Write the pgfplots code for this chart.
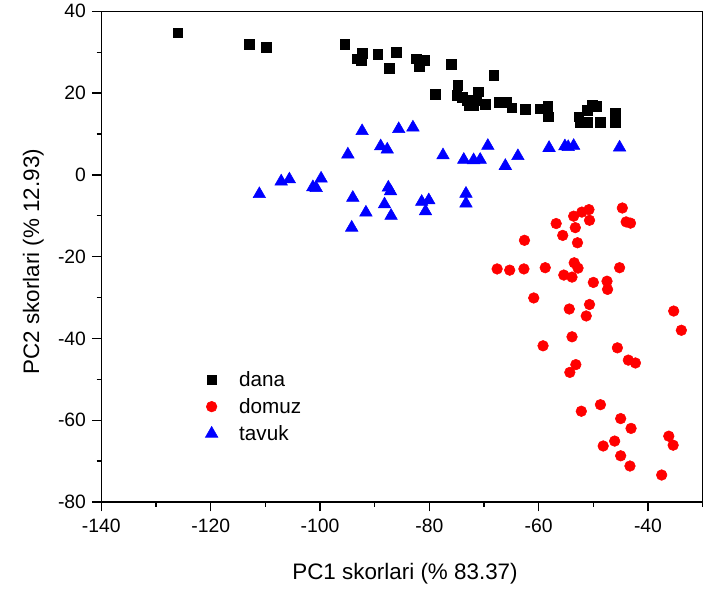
\documentclass[border=0pt]{standalone}
\usepackage{pgfplots}
\pgfplotsset{compat=1.18}
\usepackage{fontspec}
\setmainfont{Liberation Sans}
\begin{document}
\begin{tikzpicture}
\begin{axis}[
  at={(0,0)}, anchor=south west,
  scale only axis, width=451pt, height=368pt,
  xmin=-140, xmax=-30, ymin=-80, ymax=40,
  xtick={-140,-120,-100,-80,-60,-40},
  ytick={-80,-60,-40,-20,0,20,40},
  minor xtick={-130,-110,-90,-70,-50,-30},
  minor ytick={-70,-50,-30,-10,10,30},
  tick pos=left, tick align=outside,
  major tick length=7pt, minor tick length=3.5pt,
  every tick/.style={black, line width=1pt},
  axis line style={line width=1.1pt},
  /pgf/number format/assume math mode=true,
  ticklabel style={font=\fontsize{14.5}{16}\selectfont},
  xticklabel style={yshift=-2pt},
  yticklabel style={xshift=-1pt},
  xlabel={PC1 skorlari (\% 83.37)},
  ylabel={PC2 skorlari (\% 12.93)},
  label style={font=\fontsize{16.8}{19}\selectfont},
  xlabel style={at={(axis description cs:0.505,0)}, anchor=center, yshift=-54pt},
  ylabel style={at={(axis description cs:0,0.49)}, anchor=center, yshift=51pt},
  legend style={at={(0.166,0.278)}, anchor=north west, draw=none, fill=none,
    font=\fontsize{15.5}{17}\selectfont, row sep=3.5pt,
    /tikz/every odd column/.append style={column sep=14pt}},
  legend cell align=left,
]
\addplot[only marks, mark=square*, mark size=3.6pt, black] coordinates {
(-126.0,34.8) (-112.9,31.9) (-109.8,31.2) (-95.5,31.9) (-93.3,28.4) (-92.5,27.9)
(-92.3,29.8) (-89.4,29.5) (-87.3,26.1) (-86.1,30.0) (-82.4,28.4) (-81.8,26.6)
(-80.8,28.0) (-76.0,27.0) (-78.9,19.7) (-68.2,24.4) (-74.8,21.9) (-75.0,19.5)
(-74.0,19.0) (-73.1,18.2) (-72.8,17.0) (-71.9,17.0) (-71.1,20.3) (-71.3,18.2)
(-69.8,17.3) (-67.3,17.8) (-65.8,17.8) (-64.9,16.4) (-62.4,16.0) (-59.8,16.2)
(-58.3,16.8) (-58.2,14.2) (-52.7,14.2) (-52.4,12.9) (-51.1,15.8) (-50.2,17.0)
(-49.4,16.8) (-51.1,12.9) (-48.7,12.9) (-46.0,15.0) (-46.0,12.9)
};
\addlegendentry{dana}
\addplot[only marks, mark=*, mark size=4pt, draw=red, fill=red, color=red] coordinates {
(-62.6,-16.0) (-56.8,-11.9) (-55.6,-14.8) (-53.6,-10.1) (-52.1,-9.1) (-50.8,-8.5)
(-50.7,-11.1) (-53.3,-12.9) (-52.9,-16.6) (-44.7,-8.1) (-44.0,-11.5) (-43.2,-11.8)
(-67.6,-23.0) (-65.3,-23.3) (-62.7,-23.0) (-58.8,-22.7) (-53.5,-21.5) (-52.8,-22.8)
(-55.4,-24.5) (-53.9,-25.0) (-45.2,-22.7) (-50.0,-26.3) (-47.5,-26.0) (-47.4,-28.0)
(-60.9,-30.1) (-50.7,-31.7) (-54.4,-32.8) (-51.3,-34.5) (-35.3,-33.3) (-33.9,-38.0)
(-53.9,-39.6) (-59.2,-41.8) (-45.6,-42.3) (-43.6,-45.3) (-42.3,-46.0) (-53.2,-46.4)
(-54.3,-48.3) (-48.7,-56.2) (-52.2,-57.8) (-45.0,-59.6) (-43.1,-62.0) (-36.2,-63.9)
(-35.4,-66.1) (-46.1,-65.1) (-48.2,-66.3) (-45.0,-68.7) (-43.3,-71.2) (-37.5,-73.4)
};
\addlegendentry{domuz}
\addplot[only marks, mark=triangle*, mark size=5.4pt, blue] coordinates {
(-111.1,-4.7) (-107.1,-1.6) (-105.6,-1.1) (-101.3,-3.0) (-100.7,-3.2) (-99.8,-0.9)
(-92.3,10.7) (-94.9,5.0) (-94.0,-5.6) (-91.6,-9.2) (-94.2,-12.9) (-88.9,7.0)
(-87.7,6.2) (-85.6,11.2) (-87.5,-3.1) (-87.1,-4.0) (-88.2,-7.2) (-87.0,-10.0)
(-83.0,11.6) (-77.5,4.8) (-73.7,3.7) (-71.9,3.6) (-70.7,3.7) (-69.3,7.1)
(-66.1,2.2) (-63.8,4.6) (-58.1,6.6) (-55.2,7.0) (-54.6,6.8) (-53.6,7.1)
(-45.2,6.7) (-81.4,-6.6) (-80.1,-6.2) (-80.7,-8.9) (-73.3,-4.6) (-73.3,-7.0)
};
\addlegendentry{tavuk}
\end{axis}
\pgfresetboundingbox
\path (-76pt,-66pt) rectangle (453.5pt,376.5pt);
\end{tikzpicture}
\end{document}
